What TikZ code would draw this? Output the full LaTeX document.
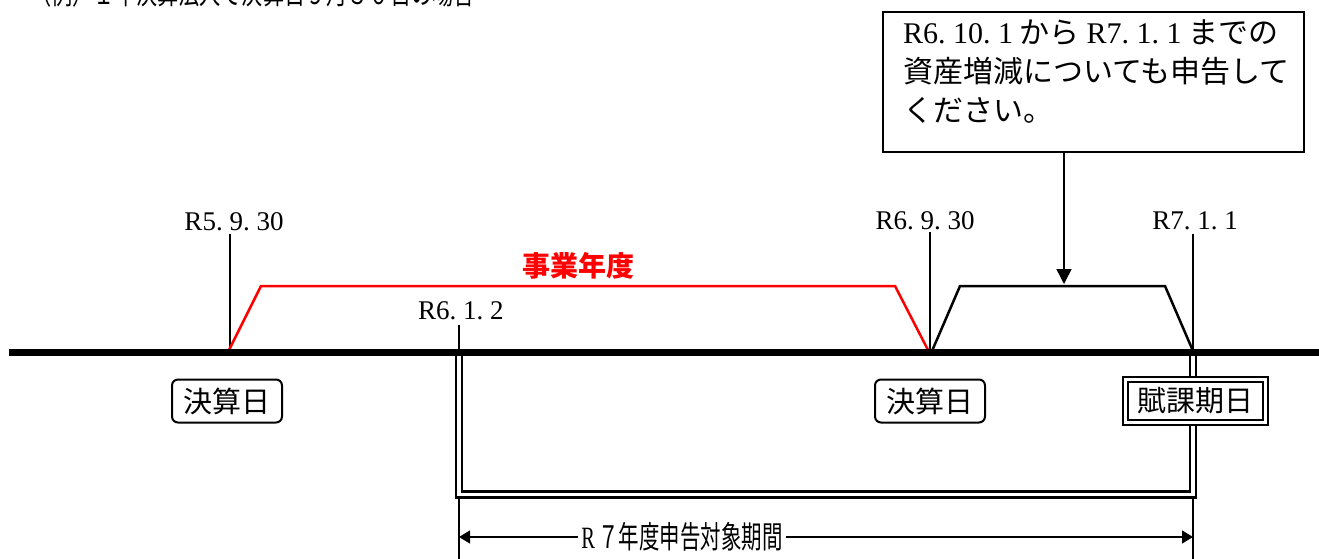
\documentclass[tikz,border=0pt]{standalone}
\usepackage{fontspec}
\usepackage{graphicx}
\setmainfont{Liberation Serif}
\newfontfamily\jp{Noto Sans CJK JP}
\usetikzlibrary{arrows.meta}
\newcommand\dotsp{.\hspace{.25em}}
\begin{document}
\begin{tikzpicture}[x=1pt,y=-1pt,
  every node/.style={inner sep=0pt},
  datelbl/.style={font=\fontsize{27}{30}\selectfont},
  jptext/.style={font=\jp\fontsize{29}{30}\selectfont},
  vline/.style={line width=2pt},
  timeline/.style={line width=7pt},
  dbl/.style={line width=2.5pt, double=white, double distance=3.5pt},
  redperiod/.style={red, line width=2.5pt, line join=miter},
  blackperiod/.style={black, line width=2.5pt, line join=miter},
  kbox/.style={draw, line width=2pt, rounded corners=6pt, minimum width=110pt,
    minimum height=43pt, fill=white, font=\jp\fontsize{29}{30}\selectfont},
  fukaouter/.style={draw, line width=1.5pt, minimum width=145pt, minimum height=48pt, fill=white},
  fukainner/.style={draw, line width=2.5pt, minimum width=135pt, minimum height=38pt, fill=white,
    font=\jp\fontsize{29}{30}\selectfont},
  notebox/.style={draw, line width=2pt, minimum width=421pt, minimum height=140pt},
  dimarrow/.style={line width=1.2pt, {Triangle[length=11pt,width=13pt]}-{Triangle[length=11pt,width=13pt]}},
  callarrow/.style={line width=1.5pt, -{Triangle[length=15pt,width=15pt]}}
]
\useasboundingbox (0,0) rectangle (1319,559);
\clip (0,0) rectangle (1319,559);

% title (mostly outside the picture)
\node[jptext, anchor=base west] (title) at (30,5)
  {\scalebox{0.73}[1]{（例）１年決算法人で決算日９月３０日の場合}};

% coordinates
\coordinate (L0) at (9,352);
\coordinate (L1) at (1319,352);
\coordinate (A0) at (230,352);
\coordinate (A1) at (230,234);
\coordinate (B0) at (459,352);
\coordinate (B1) at (459,325);
\coordinate (B2) at (459,498);
\coordinate (B3) at (459,559);
\coordinate (B4) at (459,537);
\coordinate (C0) at (930,352);
\coordinate (C1) at (930,232);
\coordinate (D0) at (1193,352);
\coordinate (D1) at (1193,234);
\coordinate (D2) at (1193,498);
\coordinate (D3) at (1193,559);
\coordinate (D4) at (1193,537);
\coordinate (BD) at (1193,494.5);

% double-line frame
\draw[dbl] (B0) |- (BD) -- (D0);
\draw[vline] (B2) -- (B3);
\draw[vline] (D2) -- (D3);

% span arrow
\draw[dimarrow] (B4) -- (D4);
\node[font=\jp\fontsize{31}{32}\selectfont, fill=white, inner xsep=3pt, inner ysep=2pt] (span) at (682,537)
  {\scalebox{0.66}[1]{{\rmfamily R\,}７年度申告対象期間}};

% vertical date lines
\draw[vline] (A1) -- (A0);
\draw[vline] (B1) -- (B0);
\draw[vline] (C1) -- (C0);
\draw[vline] (D1) -- (D0);

% periods
\coordinate (R0) at (229,350);
\coordinate (R1) at (261,286);
\coordinate (R2) at (895,286);
\coordinate (R3) at (928,350);
\draw[redperiod] (R0) -- (R1) -- (R2) -- (R3);
\coordinate (K0) at (932,351);
\coordinate (K1) at (960,286);
\coordinate (K2) at (1165,286);
\coordinate (K3) at (1193,351);
\draw[blackperiod] (K0) -- (K1) -- (K2) -- (K3);

% main time line
\draw[timeline] (L0) -- (L1);

% labels
\node[font=\jp\bfseries\fontsize{28}{30}\selectfont, text=red] (jigyo) at (578,266) {事業年度};
\node[datelbl, anchor=base] (l1) at (234,230) {R5\dotsp 9\dotsp 30};
\node[datelbl, anchor=base] (l2) at (925,229) {R6\dotsp 9\dotsp 30};
\node[datelbl, anchor=base] (l3) at (1195,229) {R7\dotsp 1\dotsp 1};
\node[datelbl, anchor=base west] (l4) at (418,319) {R6\dotsp 1\dotsp 2};

% boxes
\node[kbox] (k1) at (227,401) {決算日};
\node[kbox] (k2) at (930,401) {決算日};
\node[fukaouter] (fo) at (1195.5,401) {};
\node[fukainner] (fi) at (1195.5,401) {賦課期日};

% callout
\node[notebox] (note) at (1093.5,82) {};
\node[anchor=north west, align=left, font=\jp\fontsize{30}{39}\selectfont] (notetxt) at (903,19)
  {{\rmfamily R6\dotsp 10\dotsp 1} から {\rmfamily R7\dotsp 1\dotsp 1} までの\\
   資産増減についても申告して\\
   ください。};
\coordinate (arrtip) at (1064,284);
\draw[callarrow] (note.south -| arrtip) -- (arrtip);
\end{tikzpicture}
\end{document}
